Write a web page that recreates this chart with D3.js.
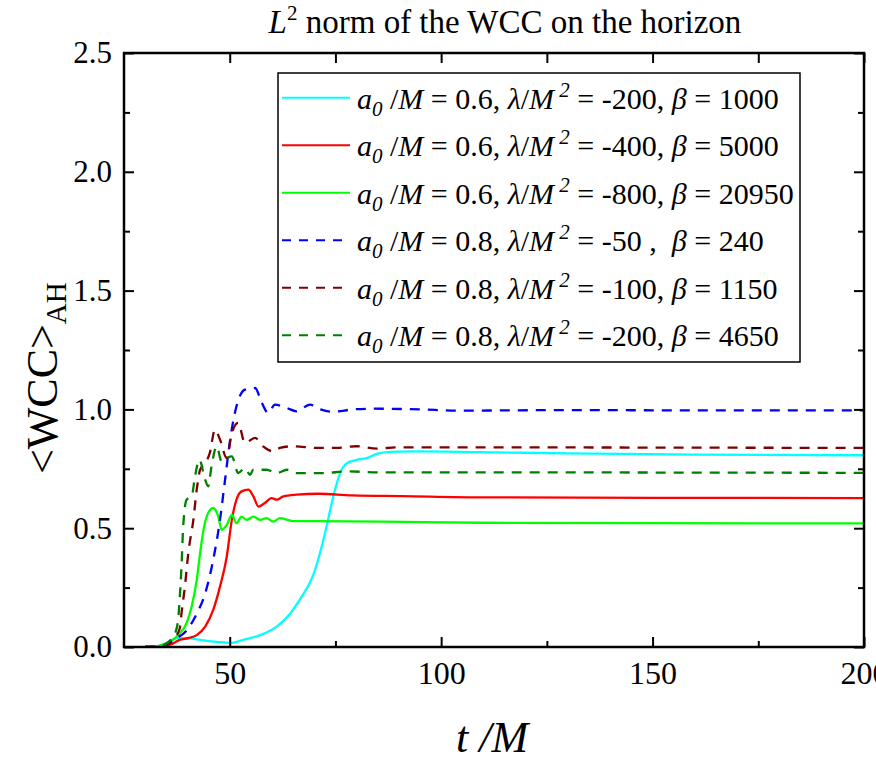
<!DOCTYPE html>
<html>
<head>
<meta charset="utf-8">
<script src="https://cdn.jsdelivr.net/npm/d3@7"></script>
<style>
  html, body { margin: 0; padding: 0; background: #fff; }
  svg { display: block; }
  text { font-family: "Liberation Serif", "Times New Roman", serif; fill: #000; white-space: pre; }
</style>
</head>
<body>
<svg id="chart" width="876" height="778"></svg>
<script>
// ---------- data (t/M, <WCC>_AH) ----------
const cyanSeries = [[30,0],[33,0.004],[35,0.016],[37.5,0.037],[39.8,0.037],[43,0.03],[46.9,0.022],[50.1,0.017],[53.2,0.03],[57.2,0.05],[61.1,0.086],[64.3,0.14],[66.6,0.2],[69.7,0.3],[72,0.44],[72.9,0.507],[74.5,0.634],[76.1,0.732],[77.7,0.774],[80,0.788],[82.4,0.795],[84.8,0.813],[87.9,0.821],[93.4,0.823],[109,0.82],[130,0.815],[160,0.81],[200,0.807]];
const redSeries = [[30,0],[33,0.003],[35.9,0.01],[38.2,0.03],[40.2,0.037],[42.2,0.05],[44.2,0.086],[46.1,0.156],[47.7,0.254],[49.3,0.381],[50.5,0.535],[51.6,0.62],[52.8,0.655],[54.4,0.662],[55.6,0.634],[56.8,0.591],[58.3,0.606],[59.9,0.627],[61.1,0.62],[62.7,0.634],[65.8,0.641],[71,0.645],[78.9,0.638],[90.8,0.635],[109,0.63],[150,0.628],[200,0.627]];
const greenSeries = [[30,0],[33,0.004],[35.9,0.022],[38.2,0.058],[39.8,0.1],[41,0.17],[42.2,0.282],[43,0.395],[43.8,0.493],[44.9,0.564],[46.1,0.585],[47.3,0.549],[48.1,0.493],[49.3,0.514],[50.5,0.556],[51.6,0.521],[52.8,0.549],[54,0.535],[55.6,0.549],[57.2,0.535],[58.7,0.542],[60.3,0.528],[61.9,0.542],[65,0.53],[70,0.53],[86,0.528],[109,0.523],[150,0.521],[200,0.52]];
const blueSeries = [[30,0],[33,0.003],[35,0.01],[36.5,0.025],[37.5,0.04],[38.6,0.05],[39.8,0.07],[42.2,0.14],[44.2,0.226],[46.1,0.367],[47.7,0.535],[48.9,0.704],[50.1,0.873],[51.6,1.013],[53.6,1.083],[56,1.09],[57.6,1.027],[59.1,0.985],[60.7,1.02],[63.5,1.006],[65.8,0.992],[69,1.02],[71.5,1.0],[74.4,0.99],[79.2,1.0],[84,1.003],[95,1.0],[104,0.995],[130,0.997],[160,0.996],[200,0.996]];
const darkRedSeries = [[30,0],[33,0.003],[35,0.01],[36.5,0.03],[38.2,0.079],[38.6,0.142],[39.4,0.254],[40.2,0.395],[41.4,0.535],[42.2,0.662],[43,0.746],[44.2,0.774],[45.3,0.817],[46.5,0.915],[47.7,0.873],[49.3,0.795],[50.5,0.9],[52,0.943],[53.6,0.859],[56,0.88],[57.9,0.844],[60.3,0.823],[61.9,0.838],[65,0.845],[70.6,0.838],[75.3,0.838],[80,0.845],[84.8,0.835],[89.5,0.84],[120,0.84],[160,0.839],[200,0.838]];
const darkGreenSeries = [[30,0],[33,0.004],[35,0.015],[36.3,0.035],[37.1,0.058],[37.8,0.114],[38.2,0.212],[38.6,0.339],[39,0.507],[39.8,0.62],[41,0.634],[41.8,0.718],[42.8,0.788],[44.2,0.704],[44.9,0.676],[45.7,0.76],[46.9,0.844],[48.1,0.781],[49.3,0.795],[50.5,0.802],[52,0.732],[53.6,0.753],[54.8,0.725],[55.6,0.746],[58.7,0.746],[61.1,0.732],[63.5,0.746],[65.8,0.732],[67.4,0.732],[72.1,0.732],[77.7,0.739],[85,0.735],[120,0.735],[160,0.734],[200,0.733]];

const seriesData = [cyanSeries, redSeries, greenSeries, blueSeries, darkRedSeries, darkGreenSeries];
const seriesColors = ["#00FFFF", "#FF0000", "#00FF00", "#0000FF", "#800000", "#008000"];
const seriesDashed = [false, false, false, true, true, true];

const legendA0 = ["0.6", "0.6", "0.6", "0.8", "0.8", "0.8"];
const legendLambda = ["-200", "-400", "-800", "-50 ", "-100", "-200"];
const legendBeta = ["1000", "5000", "20950", "240", "1150", "4650"];
const legendBetaSep = [", ", ", ", ", ", ",  ", ", ", ", "];

const xDomain = [25, 200];
const yDomain = [0, 2.5];
const xMajorTicks = [50, 100, 150, 200];
const xMinorTicks = [75, 125, 175];
const yMajorTicks = [0, 0.5, 1.0, 1.5, 2.0, 2.5];
const yMinorTicks = [0.25, 0.75, 1.25, 1.75, 2.25];

// ---------- layout ----------
const svg = d3.select("#chart");
const L = 124, R = 864, T = 53, B = 647;

const x = d3.scaleLinear().domain(xDomain).range([L, R]);
const y = d3.scaleLinear().domain(yDomain).range([B, T]);

svg.append("defs").append("clipPath").attr("id", "plotClip")
  .append("rect").attr("x", L).attr("y", T).attr("width", R - L).attr("height", B - T);

// ---------- lines ----------
const line = d3.line().x(d => x(d[0])).y(d => y(d[1])).curve(d3.curveMonotoneX);
const gLines = svg.append("g").attr("clip-path", "url(#plotClip)");
seriesData.forEach((s, i) => {
  gLines.append("path")
    .attr("d", line(s))
    .attr("fill", "none")
    .attr("stroke", seriesColors[i])
    .attr("stroke-width", 2.3)
    .attr("stroke-dasharray", seriesDashed[i] ? "10,8" : null);
});

// ---------- axes ----------
function styleAxis(g) {
  g.select(".domain").remove();
  g.selectAll(".tick line").attr("stroke", "#000").attr("stroke-width", 2);
  g.selectAll(".tick text").attr("font-family", "Liberation Serif").attr("fill", "#000");
}
// bottom
const gxB = svg.append("g").attr("transform", `translate(0,${B})`)
  .call(d3.axisBottom(x).tickValues(xMajorTicks).tickSizeInner(-10).tickSizeOuter(0).tickPadding(14).tickFormat(d3.format("d")));
styleAxis(gxB);
gxB.selectAll(".tick text").attr("font-size", 32);
const gxBm = svg.append("g").attr("transform", `translate(0,${B})`)
  .call(d3.axisBottom(x).tickValues(xMinorTicks).tickSizeInner(-6).tickSizeOuter(0).tickFormat(""));
styleAxis(gxBm);
// top
const gxT = svg.append("g").attr("transform", `translate(0,${T})`)
  .call(d3.axisTop(x).tickValues(xMajorTicks.concat(xMinorTicks)).tickSizeInner(-10).tickSizeOuter(0).tickFormat(""));
styleAxis(gxT);
// left
const gyL = svg.append("g").attr("transform", `translate(${L},0)`)
  .call(d3.axisLeft(y).tickValues(yMajorTicks).tickSizeInner(-10).tickSizeOuter(0).tickPadding(12).tickFormat(d3.format(".1f")));
styleAxis(gyL);
gyL.selectAll(".tick text").attr("font-size", 31);
const gyLm = svg.append("g").attr("transform", `translate(${L},0)`)
  .call(d3.axisLeft(y).tickValues(yMinorTicks).tickSizeInner(-6).tickSizeOuter(0).tickFormat(""));
styleAxis(gyLm);
// right
const gyR = svg.append("g").attr("transform", `translate(${R},0)`)
  .call(d3.axisRight(y).tickValues(yMajorTicks).tickSizeInner(-10).tickSizeOuter(0).tickFormat(""));
styleAxis(gyR);
const gyRm = svg.append("g").attr("transform", `translate(${R},0)`)
  .call(d3.axisRight(y).tickValues(yMinorTicks).tickSizeInner(-6).tickSizeOuter(0).tickFormat(""));
styleAxis(gyRm);

// frame
svg.append("rect").attr("x", L).attr("y", T).attr("width", R - L).attr("height", B - T)
  .attr("fill", "none").attr("stroke", "#000").attr("stroke-width", 2.5);

// ---------- title ----------
const title = svg.append("text").attr("x", 505).attr("y", 33).attr("text-anchor", "middle").attr("font-size", 33);
title.append("tspan").attr("font-style", "italic").text("L");
title.append("tspan").attr("font-size", 21).attr("dy", -13).text("2");
title.append("tspan").attr("dy", 13).text(" norm of the WCC on the horizon");

// ---------- axis labels ----------
const xl = svg.append("text").attr("x", 492).attr("y", 752).attr("text-anchor", "middle").attr("font-size", 44).attr("font-style", "italic");
xl.text("t /M");

const yl = svg.append("text").attr("transform", "translate(57,474) rotate(-90)").attr("text-anchor", "start").attr("font-size", 44);
yl.append("tspan").text("<WCC>");
yl.append("tspan").attr("font-size", 29).attr("dy", 9).text("AH");

// ---------- legend ----------
const legX0 = 278, legY0 = 73, legW = 522, legH = 289;
const gLeg = svg.append("g");
gLeg.append("rect").attr("x", legX0).attr("y", legY0).attr("width", legW).attr("height", legH)
  .attr("fill", "#fff").attr("stroke", "#000").attr("stroke-width", 1.5);
seriesData.forEach((s, i) => {
  const cy = 97.7 + 47.5 * i;
  gLeg.append("line").attr("x1", 282).attr("x2", 350).attr("y1", cy).attr("y2", cy)
    .attr("stroke", seriesColors[i]).attr("stroke-width", 2)
    .attr("stroke-dasharray", seriesDashed[i] ? "9,8" : null);
  const t = gLeg.append("text").attr("x", 357).attr("y", cy + 11).attr("font-size", 30);
  t.append("tspan").attr("font-style", "italic").text("a");
  t.append("tspan").attr("font-style", "italic").attr("font-size", 21).attr("dy", 7).text("0");
  t.append("tspan").attr("dy", -7).text(" /");
  t.append("tspan").attr("font-style", "italic").text("M");
  t.append("tspan").text(" = " + legendA0[i] + ", ");
  t.append("tspan").attr("font-style", "italic").text("λ");
  t.append("tspan").text("/");
  t.append("tspan").attr("font-style", "italic").text("M");
  t.append("tspan").attr("font-style", "italic").attr("font-size", 21).attr("dy", -12).text(" 2");
  t.append("tspan").attr("dy", 12).text(" = " + legendLambda[i] + legendBetaSep[i]);
  t.append("tspan").attr("font-style", "italic").text("β");
  t.append("tspan").text(" = " + legendBeta[i]);
});
</script>
</body>
</html>
